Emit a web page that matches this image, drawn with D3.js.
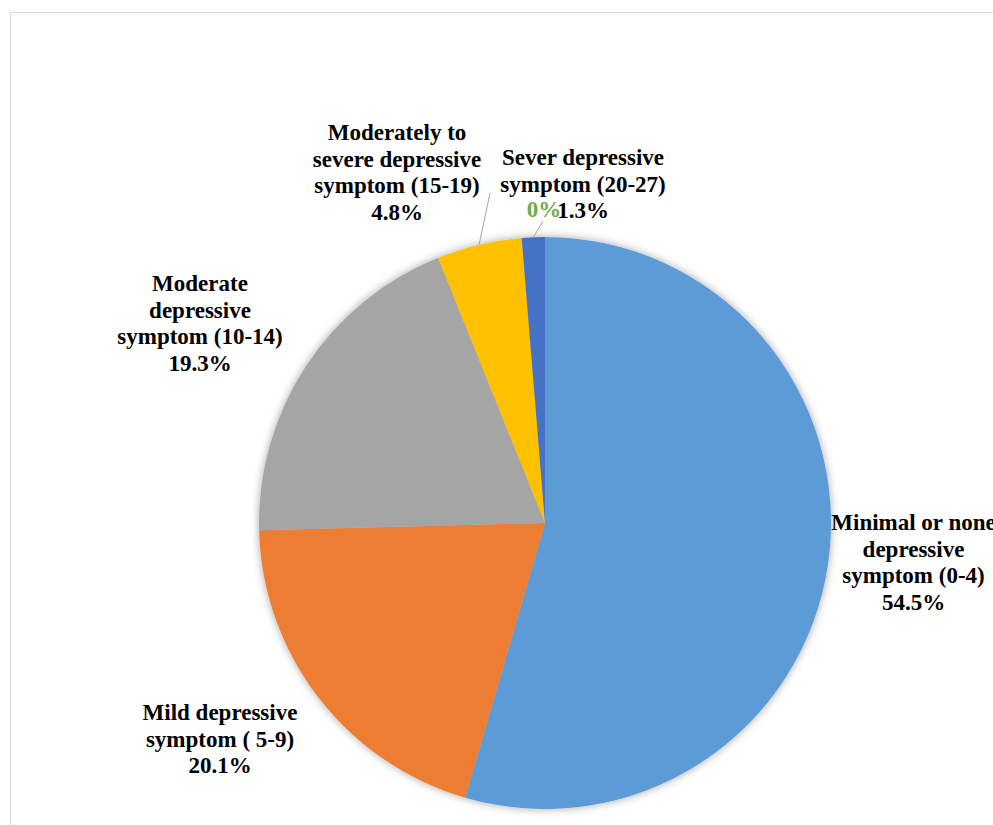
<!DOCTYPE html>
<html>
<head>
<meta charset="utf-8">
<script src="https://cdn.jsdelivr.net/npm/d3@7"></script>
<style>
  html, body { margin: 0; padding: 0; background: #fff; overflow: hidden; }
  svg { display: block; }
  text { font-family: "Liberation Serif", "Times New Roman", serif; font-weight: bold; font-size: 23px; }
</style>
</head>
<body>
<svg id="chart"></svg>
<script>
// slices, clockwise from 12 o'clock
const categories = [
  "Minimal or none depressive symptom (0-4)",
  "Mild depressive symptom ( 5-9)",
  "Moderate depressive symptom (10-14)",
  "Moderately to severe depressive symptom (15-19)",
  "Sever depressive symptom (20-27)",
  "Other"
];
const values = [54.5, 20.1, 19.3, 4.8, 1.3, 0];
const labelLines = [
  ["Minimal or none", "depressive", "symptom (0-4)"],
  ["Mild depressive", "symptom ( 5-9)"],
  ["Moderate", "depressive", "symptom (10-14)"],
  ["Moderately to", "severe depressive", "symptom (15-19)"],
  ["Sever depressive", "symptom (20-27)"],
  []
];
const percentLabels = ["54.5%", "20.1%", "19.3%", "4.8%", "1.3%", "0%"];
const colors = ["#5B9BD5", "#ED7D31", "#A5A5A5", "#FFC000", "#4472C4", "#70AD47"];

// layout: label block position (center x, first baseline) relative to pie centre
const labelPos = [
  [368.5, 7], [-325, 197], [-345, -232], [-148, -383], [38, -358], [0, -306]
];
const leaderEnd = [null, null, null, [-55, -330], [-2, -302], null];

const width = 993, height = 825;
const cx = 545, cy = 523, radius = 286;
const lineH = 26.7;

const svg = d3.select("#chart").attr("width", width).attr("height", height);

// chart area frame (runs off the right and bottom)
svg.append("rect")
  .attr("x", 10.5).attr("y", 12.5)
  .attr("width", 1100).attr("height", 1000)
  .attr("fill", "#fff")
  .attr("stroke", "#d9d9d9");

const defs = svg.append("defs");
const shadow = defs.append("filter").attr("id", "shadow")
  .attr("x", "-10%").attr("y", "-10%").attr("width", "120%").attr("height", "120%");
shadow.append("feDropShadow")
  .attr("dx", 0).attr("dy", 0).attr("stdDeviation", 4)
  .attr("flood-color", "#000").attr("flood-opacity", 0.35);

const g = svg.append("g").attr("transform", `translate(${cx},${cy})`);

const pie = d3.pie().value(d => d).sort(null);
const arcs = pie(values);
const arc = d3.arc().innerRadius(0).outerRadius(radius);

g.append("g").attr("filter", "url(#shadow)")
  .selectAll("path")
  .data(arcs)
  .enter()
  .append("path")
  .attr("d", arc)
  .attr("fill", (d, i) => colors[i]);

// leader lines from the slice edge to its label
const edge = d3.arc().innerRadius(radius).outerRadius(radius);
g.selectAll("line.leader")
  .data(arcs.filter((d, i) => leaderEnd[i]))
  .enter()
  .append("line")
  .attr("class", "leader")
  .attr("x1", d => edge.centroid(d)[0])
  .attr("y1", d => edge.centroid(d)[1])
  .attr("x2", d => leaderEnd[d.index][0])
  .attr("y2", d => leaderEnd[d.index][1])
  .attr("stroke", "#a6a6a6")
  .attr("stroke-width", 1);

// data labels
arcs.forEach((d, i) => {
  const t = g.append("text")
    .attr("text-anchor", "middle")
    .attr("x", labelPos[i][0])
    .attr("y", labelPos[i][1])
    .attr("fill", i === 5 ? colors[5] : "#000");
  const lines = labelLines[i].concat([percentLabels[i]]);
  lines.forEach((s, j) => {
    t.append("tspan")
      .attr("x", i === 5 ? -1 : labelPos[i][0])
      .attr("dy", j === 0 ? 0 : lineH)
      .text(s);
  });
});
</script>
</body>
</html>
